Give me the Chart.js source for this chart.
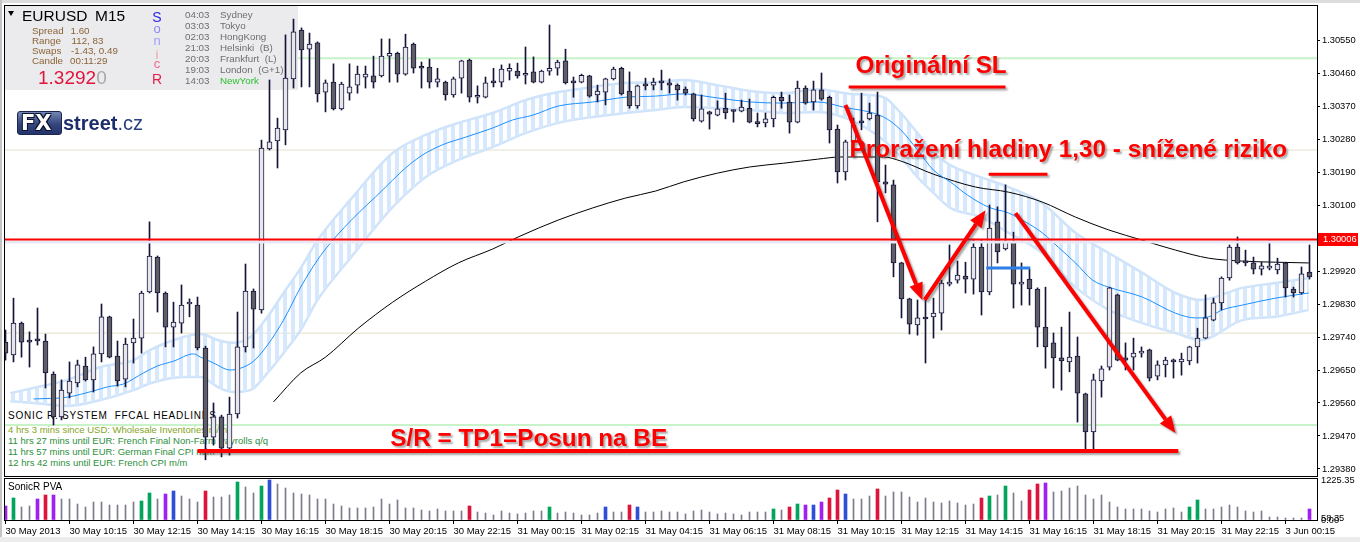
<!DOCTYPE html>
<html><head><meta charset="utf-8">
<script src="https://cdn.jsdelivr.net/npm/chart.js@4.4.1/dist/chart.umd.min.js"></script>
<style>
html,body{margin:0;padding:0;background:#fff}
body{width:1360px;height:542px;position:relative;overflow:hidden}
#main{position:absolute;left:0;top:0;z-index:2}
#vol{position:absolute;left:0;top:470px;z-index:2}
.lay{position:absolute;left:0;top:0;width:1360px;height:542px}
#under{z-index:1}
#over{z-index:3;pointer-events:none}
.t{position:absolute;white-space:pre;line-height:1;font-family:"Liberation Sans",Arial,sans-serif}
#topStrip{position:absolute;left:0;top:0;width:1360px;height:3px;background:#dcdcdc;z-index:0}
#leftStrip{position:absolute;left:0;top:0;width:2px;height:542px;background:#c4c4c4;z-index:0}
#botStrip{position:absolute;left:0;top:537px;width:1360px;height:5px;background:#ececec;z-index:0}
#tri{position:absolute;left:8px;top:11px;width:0;height:0;border-left:3.5px solid transparent;border-right:3.5px solid transparent;border-top:5px solid #000}
#logoBox{position:absolute;left:17px;top:111px;width:45px;height:24px;border-radius:3px;background:linear-gradient(#7486b2,#34467c 55%,#24346a);border:1px solid #1a2654;box-sizing:border-box}
</style></head><body>
<div id="topStrip"></div><div id="leftStrip"></div><div id="botStrip"></div>
<div id="under" class="lay"></div>
<canvas id="main" width="1360" height="478"></canvas>
<canvas id="vol" width="1360" height="72"></canvas>
<div id="over" class="lay"><div id="tri"></div><div id="logoBox"></div></div>
<script>
// ---------- DATA ----------
const candleOpen=[1.29726,1.29691,1.29778,1.29729,1.29735,1.29729,1.29639,1.29522,1.29587,1.29615,
1.29661,1.29623,1.29694,1.29795,1.29688,1.29625,1.29724,1.29737,1.29863,1.29958,
1.29860,1.29767,1.29778,1.29830,1.29827,1.29710,1.29467,1.29522,1.29437,1.29530,
1.29713,1.29865,1.29814,1.30253,1.30275,1.30305,1.30444,1.30577,1.30525,1.30542,
1.30408,1.30435,1.30362,1.30405,1.30427,1.30449,1.30452,1.30452,1.30506,1.30514,
1.30457,1.30539,1.30476,1.30476,1.30435,1.30435,1.30400,1.30446,1.30495,1.30394,
1.30394,1.30438,1.30435,1.30465,1.30465,1.30454,1.30463,1.30435,1.30465,1.30473,
1.30493,1.30435,1.30435,1.30452,1.30400,1.30408,1.30444,1.30473,1.30411,1.30370,
1.30430,1.30427,1.30435,1.30433,1.30427,1.30416,1.30403,1.30329,1.30354,1.30345,
1.30364,1.30357,1.30356,1.30364,1.30324,1.30324,1.30335,1.30394,1.30381,1.30326,
1.30419,1.30381,1.30414,1.30394,1.30307,1.30190,1.30272,1.30329,1.30335,1.30345,
1.30163,1.30155,1.29942,1.29844,1.29773,1.29792,1.29795,1.29805,1.29884,1.29895,
1.29906,1.29898,1.29985,1.29863,1.30054,1.29980,1.29999,1.29884,1.29898,1.29871,
1.29767,1.29724,1.29683,1.29672,1.29688,1.29585,1.29481,1.29620,1.29658,1.29855,
1.29683,1.29685,1.29696,1.29705,1.29633,1.29664,1.29677,1.29672,1.29675,1.29713,
1.29737,1.29786,1.29833,1.29901,1.29985,1.29947,1.29942,1.29925,1.29928,1.29923,
1.29942,1.29871,1.29860,1.29917];
const candleHigh=[1.29759,1.29846,1.29781,1.29754,1.29819,1.29748,1.29645,1.29623,1.29672,1.29677,
1.29685,1.29713,1.29830,1.29797,1.29729,1.29737,1.29789,1.29865,1.30054,1.29961,
1.29863,1.29835,1.29882,1.29844,1.29849,1.29715,1.29560,1.29527,1.29576,1.29808,
1.29939,1.29871,1.30277,1.30441,1.30337,1.30564,1.30607,1.30583,1.30569,1.30545,
1.30441,1.30485,1.30435,1.30485,1.30479,1.30479,1.30506,1.30553,1.30553,1.30517,
1.30566,1.30542,1.30490,1.30498,1.30473,1.30438,1.30449,1.30495,1.30498,1.30425,
1.30449,1.30473,1.30482,1.30485,1.30487,1.30531,1.30504,1.30468,1.30591,1.30495,
1.30525,1.30449,1.30457,1.30454,1.30427,1.30446,1.30476,1.30476,1.30463,1.30427,
1.30446,1.30446,1.30468,1.30444,1.30430,1.30422,1.30405,1.30400,1.30356,1.30384,
1.30405,1.30359,1.30386,1.30389,1.30351,1.30351,1.30397,1.30408,1.30400,1.30438,
1.30425,1.30438,1.30460,1.30397,1.30318,1.30277,1.30337,1.30405,1.30378,1.30408,
1.30209,1.30168,1.29944,1.29846,1.29841,1.29841,1.29846,1.29895,1.29991,1.29947,
1.29944,1.30007,1.30004,1.30100,1.30095,1.30155,1.30026,1.29942,1.29925,1.29874,
1.29876,1.29751,1.29767,1.29808,1.29740,1.29587,1.29639,1.29661,1.29876,1.29857,
1.29724,1.29737,1.29713,1.29707,1.29675,1.29685,1.29680,1.29696,1.29715,1.29764,
1.29855,1.29846,1.29904,1.29991,1.30013,1.29977,1.29958,1.29944,1.30002,1.29955,
1.29944,1.29876,1.29931,1.29991];
const candleLow=[1.29677,1.29672,1.29685,1.29658,1.29718,1.29601,1.29500,1.29514,1.29574,1.29604,
1.29620,1.29590,1.29672,1.29683,1.29606,1.29604,1.29669,1.29696,1.29860,1.29808,
1.29713,1.29713,1.29751,1.29795,1.29705,1.29405,1.29445,1.29413,1.29418,1.29519,
1.29699,1.29710,1.29805,1.30250,1.30201,1.30264,1.30419,1.30422,1.30422,1.30381,
1.30354,1.30359,1.30359,1.30386,1.30405,1.30419,1.30419,1.30449,1.30435,1.30435,
1.30454,1.30460,1.30419,1.30419,1.30422,1.30386,1.30394,1.30405,1.30381,1.30378,
1.30392,1.30422,1.30422,1.30441,1.30446,1.30430,1.30433,1.30433,1.30454,1.30454,
1.30430,1.30394,1.30433,1.30394,1.30381,1.30373,1.30441,1.30400,1.30364,1.30364,
1.30414,1.30414,1.30414,1.30405,1.30386,1.30400,1.30329,1.30326,1.30307,1.30343,
1.30335,1.30326,1.30354,1.30324,1.30313,1.30313,1.30313,1.30364,1.30296,1.30324,
1.30375,1.30359,1.30386,1.30269,1.30160,1.30168,1.30264,1.30305,1.30332,1.30054,
1.30133,1.29904,1.29792,1.29748,1.29745,1.29669,1.29737,1.29759,1.29879,1.29887,
1.29860,1.29857,1.29800,1.29855,1.29942,1.29977,1.29819,1.29827,1.29827,1.29713,
1.29655,1.29601,1.29595,1.29645,1.29508,1.29432,1.29432,1.29576,1.29650,1.29675,
1.29650,1.29650,1.29685,1.29620,1.29623,1.29631,1.29628,1.29636,1.29664,1.29669,
1.29735,1.29784,1.29814,1.29895,1.29939,1.29934,1.29912,1.29909,1.29923,1.29912,
1.29849,1.29849,1.29857,1.29898];
const candleClose=[1.29696,1.29778,1.29726,1.29726,1.29729,1.29642,1.29522,1.29595,1.29620,1.29664,
1.29623,1.29694,1.29795,1.29685,1.29620,1.29721,1.29737,1.29860,1.29961,1.29860,
1.29767,1.29781,1.29827,1.29833,1.29710,1.29467,1.29522,1.29437,1.29530,1.29713,
1.29865,1.29816,1.30255,1.30272,1.30310,1.30446,1.30572,1.30523,1.30539,1.30403,
1.30433,1.30362,1.30430,1.30422,1.30457,1.30457,1.30435,1.30506,1.30514,1.30457,
1.30531,1.30473,1.30473,1.30435,1.30444,1.30400,1.30444,1.30493,1.30394,1.30397,
1.30433,1.30433,1.30471,1.30473,1.30452,1.30457,1.30435,1.30465,1.30473,1.30490,
1.30433,1.30433,1.30454,1.30397,1.30411,1.30444,1.30471,1.30403,1.30370,1.30425,
1.30425,1.30435,1.30433,1.30427,1.30414,1.30405,1.30335,1.30362,1.30348,1.30362,
1.30351,1.30355,1.30367,1.30326,1.30322,1.30335,1.30394,1.30384,1.30326,1.30419,
1.30378,1.30414,1.30389,1.30305,1.30190,1.30272,1.30318,1.30324,1.30351,1.30163,
1.30157,1.29942,1.29844,1.29775,1.29792,1.29789,1.29805,1.29887,1.29890,1.29909,
1.29898,1.29985,1.29863,1.30037,1.29972,1.29999,1.29884,1.29890,1.29871,1.29767,
1.29713,1.29683,1.29675,1.29685,1.29587,1.29481,1.29623,1.29653,1.29874,1.29677,
1.29677,1.29696,1.29699,1.29628,1.29664,1.29677,1.29672,1.29680,1.29713,1.29737,
1.29792,1.29833,1.29901,1.29985,1.29942,1.29942,1.29925,1.29934,1.29931,1.29939,
1.29874,1.29860,1.29912,1.29904];

const volume=[429,674,398,429,643,766,766,643,643,490,398,551,551,459,459,459,551,582,827,643,
796,888,735,643,551,888,704,704,766,1164,1011,827,1041,1225.35,1103,980,827,796,766,643,
643,490,429,368,368,368,398,643,490,613,
368,368,306,276,337,276,276,276,429,245,214,153,276,214,184,214,276,276,398,214,
245,214,153,153,214,398,245,245,459,398,245,245,276,245,245,184,276,306,245,184,
214,184,153,245,245,245,337,306,398,490,459,459,551,674,919,796,643,643,735,950,735,858,
858,704,551,674,551,521,582,521,459,490,674,735,766,1041,827,582,919,1103,1133,858,
888,980,1041,766,643,766,551,398,337,337,337,276,245,337,368,245,398,613,337,337,
398,459,398,276,245,276,92,92,61,61,61,337];
const volGreen=[1,17,18,29,32,68,96,99,123,125,148,149];
const volRed=[5,25,58,78,98,103,104,109,122,128,129];
const volBlue=[21,33,75,79,101,105];
const volPurple=[0,4,6,20,100,102,130,163];

const emaIdx=[3.5,7.75,11,12.75,14.75,17.25,19,21,23.5,24.4,26,28.1,29.4,31,32.75,34.75,36.9,39,40.6,44.1,46.25,48.4,50,52.1,54.6,57.5,60.9,63.4,65.9,69.1,73.4,77.5,81.25,84.75,89,93.1,97.25,101.5,104.75,109.75,111.9,114,116,118.1,120.25,122.9,125.4,127.5,129.6,131.6,133.75,135.9,137.9,142.1,146.25,148.75,150.4,152.1,154.6,158.75,162.9];
const emaVal=[1.29571,1.29576,1.29593,1.29604,1.29612,1.29642,1.29661,1.29674,1.29694,1.29685,1.29669,1.29650,1.29655,1.29674,1.29718,1.29786,1.29876,1.29950,1.29996,1.30078,1.30122,1.30168,1.30201,1.30236,1.30264,1.30285,1.30310,1.30332,1.30345,1.30370,1.30381,1.30394,1.30397,1.30403,1.30392,1.30381,1.30378,1.30381,1.30367,1.30340,1.30305,1.30250,1.30195,1.30163,1.30127,1.30094,1.30078,1.30054,1.30024,1.29985,1.29942,1.29895,1.29876,1.29849,1.29805,1.29792,1.29795,1.29814,1.29827,1.29846,1.29860];
const bandIdx=[0.6,3.5,7.75,11.9,16,18.1,22.25,24.4,26.5,28.5,30.6,32.75,34.75,36.9,39,43.1,48.4,52.5,56.6,60.9,65,69.1,73.4,77.5,81.25,84.75,89,93.1,97.25,101.5,105.6,109.75,111.9,114,116,118.1,121.9,125.4,129.6,133.75,137.9,142.1,146.25,149.4,154.6,158.75,162.9];
const bandHi=[1.29587,1.29601,1.29623,1.29658,1.29677,1.29705,1.29740,1.29748,1.29732,1.29724,1.29740,1.29795,1.29860,1.29928,1.30004,1.30114,1.30242,1.30291,1.30324,1.30351,1.30386,1.30408,1.30422,1.30433,1.30435,1.30441,1.30427,1.30411,1.30405,1.30416,1.30403,1.30394,1.30351,1.30296,1.30242,1.30209,1.30176,1.30149,1.30105,1.30024,1.29969,1.29915,1.29860,1.29841,1.29874,1.29887,1.29901];
const bandLo=[1.29565,1.29560,1.29552,1.29568,1.29595,1.29614,1.29631,1.29631,1.29604,1.29590,1.29595,1.29642,1.29696,1.29759,1.29841,1.29955,1.30094,1.30176,1.30223,1.30258,1.30296,1.30324,1.30340,1.30351,1.30359,1.30367,1.30364,1.30359,1.30351,1.30354,1.30332,1.30277,1.30231,1.30176,1.30133,1.30092,1.30067,1.30024,1.29969,1.29876,1.29814,1.29778,1.29751,1.29732,1.29786,1.29795,1.29814];
const maIdx=[33.5,36.9,40,44.1,48.4,52.5,56.6,60.9,64.1,69.1,73.4,77.5,81.25,84.75,89,93.1,97.25,101.5,104.4,109.75,111.9,116,121.25,125.4,129.6,133.75,137.9,142.1,146.25,150.4,154.6,158.75,162.9];
const maVal=[1.29563,1.29642,1.29685,1.29764,1.29835,1.29892,1.29942,1.29980,1.30013,1.30059,1.30092,1.30119,1.30138,1.30163,1.30187,1.30204,1.30214,1.30225,1.30231,1.30231,1.30220,1.30184,1.30149,1.30135,1.30108,1.30067,1.30032,1.30004,1.29977,1.29955,1.29947,1.29944,1.29942];

const yTickValues=[1.30550,1.30460,1.30370,1.30280,1.30190,1.30100,1.29920,1.29830,1.29740,1.29650,1.29560,1.29470,1.29380];
const xTickBars=[0,8,16,24,32,40,48,56,64,72,80,88,96,104,112,120,128,136,144,152,160];
const xTickLabels=["30 May 2013","30 May 10:15","30 May 12:15","30 May 14:15","30 May 16:15","30 May 18:15","30 May 20:15","30 May 22:15","31 May 00:15","31 May 02:15","31 May 04:15","31 May 06:15","31 May 08:15","31 May 10:15","31 May 12:15","31 May 14:15","31 May 16:15","31 May 18:15","31 May 20:15","31 May 22:15","3 Jun 00:15"];
const volTickValues=[0,58.35,1225.35];

const redLevel=1.30006;
const greenLevels=[1.30500,1.29500];
const beigeLevels=[1.30250,1.29750];
// annotations in data units [bar index, price]
const arrowsData=[[105,1.30373,114.6,1.29841],[114.9,1.29841,122.5,1.30086],[126.25,1.30078,146.25,1.29478]];
const underlines=[[105.4,125,1.30422,3],[122.9,130.25,1.30184,3],[24,146.6,1.29429,4]];
const blueSeg=[122.6,128.1,1.29928];
const notes=[["Originální SL",106.25,1.30460],["Proražení hladiny 1,30 - snížené riziko",105.5,1.30231],["S/R = TP1=Posun na BE",48.1,1.29443]];

// ---------- SCALE RANGES ----------
const xMin=-0.1875, xMax=163.9375;
const yMin=1.293609, yMax=1.306455;
const volMax=1256;

Chart.defaults.font.family='"Liberation Sans", Arial, sans-serif';
Chart.defaults.animation=false;

const mainCtx=document.getElementById('main').getContext('2d');
const pc=document.createElement('canvas'); pc.width=8; pc.height=8;
const pcx=pc.getContext('2d'); pcx.fillStyle='#d5e8fc'; pcx.fillRect(3,0,4,8);
const bandPattern=mainCtx.createPattern(pc,'repeat');

function arrow(ctx,x1,y1,x2,y2){
  const ang=Math.atan2(y2-y1,x2-x1),L=17,W=7;
  const bx=x2-L*Math.cos(ang),by=y2-L*Math.sin(ang);
  ctx.beginPath();ctx.moveTo(x1,y1);ctx.lineTo(bx,by);ctx.lineWidth=4;ctx.stroke();
  ctx.beginPath();ctx.moveTo(x2,y2);ctx.lineTo(bx+W*Math.sin(ang),by-W*Math.cos(ang));ctx.lineTo(bx-W*Math.sin(ang),by+W*Math.cos(ang));ctx.closePath();ctx.fill();
}

const mainDeco={id:'mainDeco',
  beforeDatasetsDraw(c){
    const {ctx,chartArea:a,scales:{y}}=c;
    ctx.save();
    ctx.lineWidth=2;ctx.strokeStyle='#c8f2c8';
    greenLevels.forEach(v=>{const p=y.getPixelForValue(v);ctx.beginPath();ctx.moveTo(a.left,p);ctx.lineTo(a.right,p);ctx.stroke();});
    ctx.strokeStyle='#eeeadb';ctx.lineWidth=1.5;
    beigeLevels.forEach(v=>{const p=y.getPixelForValue(v);ctx.beginPath();ctx.moveTo(a.left,p);ctx.lineTo(a.right,p);ctx.stroke();});
    ctx.fillStyle='#ebebee';ctx.fillRect(5,6,293,84);
    ctx.restore();
  },
  afterDatasetsDraw(c){
    const {ctx,chartArea:a,scales:{x,y}}=c;
    ctx.save();
    const rp=y.getPixelForValue(redLevel);
    ctx.fillStyle='#e8e8f5';ctx.fillRect(a.left,rp+1,a.right-a.left,3);
    ctx.strokeStyle='#ff0000';ctx.lineWidth=2;ctx.beginPath();ctx.moveTo(a.left,rp);ctx.lineTo(a.right,rp);ctx.stroke();
    ctx.strokeStyle='#2b7fe6';ctx.lineWidth=3;
    const bp=y.getPixelForValue(blueSeg[2]);
    ctx.beginPath();ctx.moveTo(x.getPixelForValue(blueSeg[0]),bp);ctx.lineTo(x.getPixelForValue(blueSeg[1]),bp);ctx.stroke();
    ctx.shadowColor='rgba(60,60,60,0.45)';ctx.shadowOffsetX=2;ctx.shadowOffsetY=2;ctx.shadowBlur=2;
    ctx.strokeStyle='#ff0000';ctx.fillStyle='#ff0000';
    underlines.forEach(u=>{const p=y.getPixelForValue(u[2]);ctx.lineWidth=u[3];ctx.beginPath();ctx.moveTo(x.getPixelForValue(u[0]),p);ctx.lineTo(x.getPixelForValue(u[1]),p);ctx.stroke();});
    arrowsData.forEach(d=>arrow(ctx,x.getPixelForValue(d[0]),y.getPixelForValue(d[1]),x.getPixelForValue(d[2]),y.getPixelForValue(d[3])));
    ctx.font='bold 24.3px "Liberation Sans", Arial, sans-serif';ctx.textBaseline='alphabetic';ctx.textAlign='left';
    notes.forEach(n=>ctx.fillText(n[0],x.getPixelForValue(n[1]),y.getPixelForValue(n[2])));
    ctx.restore();
    ctx.save();ctx.strokeStyle='#000';ctx.lineWidth=1;ctx.strokeRect(4.5,5.5,1313,471);ctx.restore();
  },
  afterDraw(c){
    const {ctx,scales:{y}}=c;
    const p=Math.round(y.getPixelForValue(redLevel));
    ctx.save();ctx.fillStyle='#ff0000';ctx.fillRect(1318,p-6,40,13);
    ctx.fillStyle='#fff';ctx.font='9.3px "Liberation Sans", Arial';ctx.textBaseline='middle';ctx.fillText(redLevel.toFixed(5),1323,p+0.5);
    ctx.restore();
  }
};

const idx=candleOpen.map((_,i)=>i);
const pts=(xs,ys)=>xs.map((v,k)=>({x:v,y:ys[k]}));
new Chart(mainCtx,{
  type:'bar',
  data:{datasets:[
    {label:'body',data:idx.map(i=>({x:i,y:[candleOpen[i],candleClose[i]]})),barThickness:5,borderWidth:1,borderColor:'#15153c',borderSkipped:false,minBarLength:2,
     backgroundColor:c=>{const i=c.dataIndex;return (i!=null&&candleClose[i]>=candleOpen[i])?'#e6e6ea':'#5e5e64';},grouped:false,order:0},
    {label:'wick',data:idx.map(i=>({x:i,y:[candleLow[i],candleHigh[i]]})),barThickness:1,backgroundColor:'#15153c',borderWidth:0,grouped:false,order:1},
    {type:'line',label:'ema',data:pts(emaIdx,emaVal),borderColor:'#1e90ff',borderWidth:1,pointRadius:0,cubicInterpolationMode:'monotone',fill:false,order:2},
    {type:'line',label:'ma',data:pts(maIdx,maVal),borderColor:'#000',borderWidth:1,pointRadius:0,cubicInterpolationMode:'monotone',fill:false,order:2},
    {type:'line',label:'bandHi',data:pts(bandIdx,bandHi),borderColor:'#cfe3fa',borderWidth:2.5,pointRadius:0,cubicInterpolationMode:'monotone',fill:'+1',backgroundColor:bandPattern,order:4},
    {type:'line',label:'bandLo',data:pts(bandIdx,bandLo),borderColor:'#cfe3fa',borderWidth:2.5,pointRadius:0,cubicInterpolationMode:'monotone',fill:false,order:4}
  ]},
  options:{responsive:false,devicePixelRatio:1,animation:false,events:[],
    layout:{padding:{left:4,top:5,right:0,bottom:2}},
    plugins:{legend:{display:false},tooltip:{enabled:false}},
    scales:{
      x:{type:'linear',display:false,min:xMin,max:xMax,offset:false,grid:{offset:false}},
      y:{type:'linear',position:'right',min:yMin,max:yMax,
        afterFit(s){s.width=43;s.paddingTop=0;s.paddingBottom=0;},
        afterBuildTicks(s){s.ticks=yTickValues.map(v=>({value:v}));},
        ticks:{callback:v=>Number(v).toFixed(5),font:{size:9.3},color:'#000',padding:2,autoSkip:false},
        grid:{drawOnChartArea:false,drawTicks:true,tickLength:3,color:'#000'},
        border:{display:false}}
    }
  },
  plugins:[mainDeco]
});

// ---------- VOLUME ----------
function volColor(i){
  if(volGreen.includes(i))return '#00a45a';
  if(volRed.includes(i))return '#dc143c';
  if(volBlue.includes(i))return '#2f4fd6';
  if(volPurple.includes(i))return '#a020f0';
  return null;
}
const volNormal=[],volColored=[];
volume.forEach((v,i)=>{(volColor(i)?volColored:volNormal).push({x:i,y:v});});
const volDeco={id:'volDeco',afterDatasetsDraw(c){const ctx=c.ctx;ctx.save();ctx.strokeStyle='#000';ctx.lineWidth=1;ctx.strokeRect(4.5,8.5,1313,42);ctx.restore();}};
new Chart(document.getElementById('vol').getContext('2d'),{
  type:'bar',
  data:{datasets:[
    {data:volNormal,barThickness:1,backgroundColor:'#7b7b8b',grouped:false},
    {data:volColored,barThickness:3,backgroundColor:c=>(c.raw?volColor(c.raw.x):'#000'),grouped:false}
  ]},
  options:{responsive:false,devicePixelRatio:1,animation:false,events:[],
    layout:{padding:{left:4,top:9,right:0,bottom:0}},
    plugins:{legend:{display:false},tooltip:{enabled:false}},
    scales:{
      x:{type:'linear',min:xMin,max:xMax,offset:false,
        afterFit(s){s.height=22;s.paddingLeft=0;s.paddingRight=0;},
        afterBuildTicks(s){s.ticks=xTickBars.map(v=>({value:v}));},
        ticks:{callback:(v,i)=>xTickLabels[i],align:'start',maxRotation:0,autoSkip:false,font:{size:9.5},color:'#000',padding:2},
        grid:{drawOnChartArea:false,drawTicks:true,tickLength:4,color:'#000',offset:false},
        border:{display:false}},
      y:{type:'linear',position:'right',min:0,max:volMax,
        afterFit(s){s.width=43;s.paddingTop=0;s.paddingBottom=0;},
        afterBuildTicks(s){s.ticks=volTickValues.map(v=>({value:v}));},
        ticks:{callback:v=>Number(v).toFixed(2),font:{size:9.3},color:'#000',padding:4,autoSkip:false},
        grid:{drawOnChartArea:false,drawTicks:false},
        border:{display:false}}
    }
  },
  plugins:[volDeco]
});

// ---------- TEXT OVERLAYS ----------
function addT(layer,t,left,cy,size,color,o){
  o=o||{};
  const s=document.createElement('div');s.className='t';s.textContent=t;
  s.style.left=left+'px';s.style.top=(cy-size*(o.lc?0.586:0.5))+'px';s.style.fontSize=size+'px';s.style.color=color;
  if(o.w)s.style.fontWeight=o.w; if(o.ls)s.style.letterSpacing=o.ls+'px'; if(o.ff)s.style.fontFamily=o.ff;
  if(o.center)s.style.transform='translateX(-50%)';
  layer.appendChild(s);return s;
}
const over=document.getElementById('over'),under=document.getElementById('under');
const brown='#8a6436';
addT(over,'EURUSD',22,16,15.5,'#000');
addT(over,'M15',95,16,15.5,'#000');
[['Spread','1.60',70.5,31],['Range','112, 83',71.5,41],['Swaps','-1.43, 0.49',71,51],['Candle','00:11:29',70,61]].forEach(r=>{addT(over,r[0],32,r[3],9.8,brown);addT(over,r[1],r[2],r[3],9.8,brown);});
const big=addT(over,'',38,77,19,'#e0143c');
big.innerHTML='<span style="color:#e0143c">1.3292</span><span style="color:#a8a8a8">0</span>';
addT(over,'S',157,16.5,14,'#2a2ae8',{center:1});
addT(over,'o',157,30,13,'#8a8aee',{center:1,lc:1});
addT(over,'n',157,41.5,13,'#a0a0f6',{center:1,lc:1});
addT(over,'i',157,54,13,'#f0a0a0',{center:1});
addT(over,'c',157,65,13,'#f06890',{center:1,lc:1});
addT(over,'R',157,79,14,'#e2204e',{center:1});
const sessions=[['04:03','Sydney'],['03:03','Tokyo'],['02:03','HongKong'],['21:03','Helsinki  (B)'],['20:03','Frankfurt  (L)'],['19:03','London  (G+1)'],['14:03','NewYork']];
sessions.forEach((s,k)=>{const cy=14.7+k*11;addT(over,s[0],185,cy,9.8,'#6e6e6e');addT(over,s[1],220,cy,9.8,k===6?'#2ec02e':'#6e6e6e');});
addT(over,'FX',21,123,21,'#fff',{w:'900',ff:'"DejaVu Sans", sans-serif'}).style.textShadow='1px 1px 0 #0c1430,-1px -1px 0 #0c1430,1px -1px 0 #0c1430,-1px 1px 0 #0c1430';
const st=addT(over,'',63,123,20,'#1d2e6b');
st.innerHTML='<span style="font-weight:bold">street</span><span style="color:#2a3f80">.cz</span>';
addT(over,'SonicR PVA',8,487,10,'#000');
addT(under,'SONIC R. SYSTEM  FFCAL HEADLINES',8,416,10,'#000',{ls:0.75});
addT(under,'4 hrs 3 mins since USD: Wholesale Inventories m/m',8,430,9.5,'#86a41e');
addT(under,'11 hrs 27 mins until EUR: French Final Non-Farm Payrolls q/q',8,441,9.5,'#2b8f3b');
addT(under,'11 hrs 57 mins until EUR: German Final CPI m/m',8,452,9.5,'#2b8f3b');
addT(under,'12 hrs 42 mins until EUR: French CPI m/m',8,463,9.5,'#2b8f3b');
</script>
</body></html>
